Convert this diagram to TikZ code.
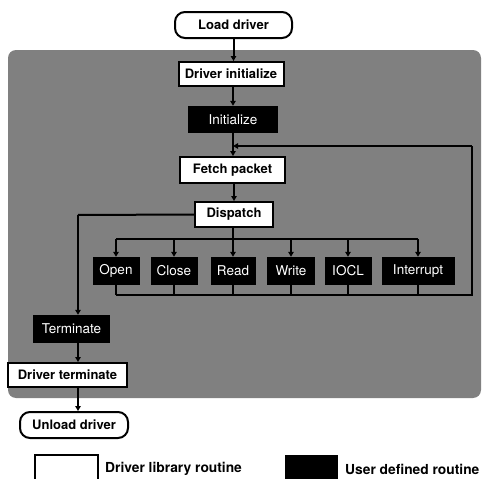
\documentclass[tikz,border=0pt]{standalone}
\usepackage{fontspec}
\setmainfont{TeX Gyre Heros}
\usetikzlibrary{arrows.meta}
\begin{document}
\begin{tikzpicture}[x=1pt,y=-1pt,
  lib/.style={draw=black,line width=2pt,fill=white,inner sep=0pt,font=\bfseries\fontsize{13}{14}\selectfont},
  usr/.style={fill=black,text=white,inner sep=0pt,minimum height=28pt,font=\fontsize{13.5}{14}\selectfont},
  termbox/.style={lib,rounded corners=10pt},
  flow/.style={line width=2pt},
  arr/.style={flow,-{Triangle[length=5pt,width=5.5pt]}},
  legtext/.style={anchor=west,inner sep=0pt,font=\bfseries\fontsize{13.8}{15}\selectfont}]
\useasboundingbox (0,0) rectangle (483,479);
% shaded background
\fill[black!50,rounded corners=8pt] (8,50) rectangle (481,398);
% nodes
\node[termbox,minimum width=117pt,minimum height=26pt] (load) at (233.5,25) {Load driver};
\node[lib,minimum width=105pt,minimum height=24pt] (dinit) at (231,74) {Driver initialize};
\node[usr,minimum width=90pt,minimum height=27pt] (init) at (233,119.5) {Initialize};
\node[lib,minimum width=105pt,minimum height=26pt] (fetch) at (232.5,170) {Fetch packet};
\node[lib,minimum width=78pt,minimum height=25pt] (disp) at (234,214.5) {Dispatch};
\node[usr,minimum width=47pt] (open) at (116,271) {Open};
\node[usr,minimum width=47pt] (close) at (174,271) {Close};
\node[usr,minimum width=45pt] (read) at (233,271) {Read};
\node[usr,minimum width=48pt] (write) at (291,271) {Write};
\node[usr,minimum width=47pt] (iocl) at (348,271) {IOCL};
\node[usr,minimum width=73pt] (intr) at (418,271) {Interrupt};
\node[usr,minimum width=77pt] (term) at (71.5,329) {Terminate};
\node[lib,minimum width=119pt,minimum height=24pt] (dterm) at (67.5,375) {Driver terminate};
\node[termbox,minimum width=108pt,minimum height=26pt] (unload) at (74,425) {Unload driver};
% coordinates
\coordinate (spine) at (78,215);
\coordinate (topbus) at (233,239);
\coordinate (botbus) at (233,295);
\coordinate (rt) at (472,295);
\coordinate (loopin) at (233,146);
% connectors
\draw[arr] (load.south) -- (load.south |- dinit.north);
\draw[arr] (dinit.south -| init.north) -- (init.north);
\draw[arr] (init.south) -- (fetch.north -| init.south);
\draw[arr] (fetch.south -| disp.north) -- (disp.north);
\draw[arr] (disp.south -| read.north) -- (read.north);
\draw[flow] (open.north |- topbus) -- (intr.north |- topbus);
\foreach \n in {open,close,write,iocl,intr}
  \draw[arr] (\n.north |- topbus) -- (\n.north);
\foreach \n in {open,close,read,write,iocl,intr}
  \draw[flow] (\n.south) -- (\n.south |- botbus);
\draw[flow] (open.south |- botbus) -- (rt) -- (rt |- loopin);
\draw[arr] (rt |- loopin) -- (loopin);
\draw[flow] (disp.west) -- (spine);
\draw[arr] (spine) -- (spine |- term.north);
\draw[arr] (spine |- term.south) -- (spine |- dterm.north);
\draw[arr] (spine |- dterm.south) -- (spine |- unload.north);
% legend
\node[lib,minimum width=63pt,minimum height=30pt] (leglib) at (66.5,470) {};
\node[legtext] (leglibt) at (105,469) {Driver library routine};
\node[usr,minimum width=53pt,minimum height=30pt] (legusr) at (311.5,470) {};
\node[legtext] (legusrt) at (345,469) {User defined routine};
\end{tikzpicture}
\end{document}
